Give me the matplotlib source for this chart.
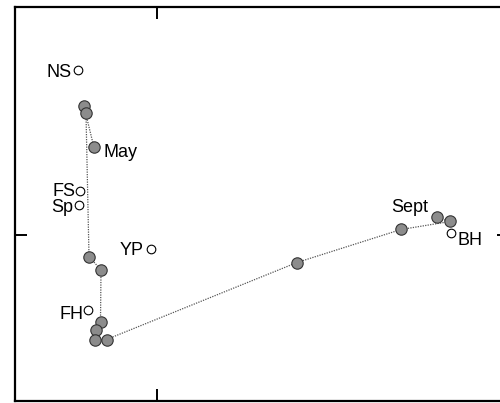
import matplotlib
matplotlib.use("Agg")
import matplotlib.pyplot as plt

plt.rcParams['font.family'] = ['Liberation Sans', 'DejaVu Sans']

# Sample trajectory through ordination space (first labelled May, last labelled Sept)
traj_x = [-0.625, -0.725, -0.705, -0.675, -0.555, -0.56, -0.61, -0.615, -0.50,
          1.405, 2.445, 2.935, 2.805]
traj_y = [0.88, 1.29, 1.22, -0.21, -0.345, -0.86, -0.945, -1.045, -1.04,
          -0.27, 0.06, 0.14, 0.18]

# Reference sites (open circles)
site_names = ["NS", "FS", "Sp", "YP", "FH", "BH"]
site_x = [-0.785, -0.765, -0.775, -0.06, -0.69, 2.945]
site_y = [1.65, 0.445, 0.30, -0.14, -0.74, 0.02]

fig = plt.figure(figsize=(5.0, 4.03), dpi=100)
ax = fig.add_axes([14.5 / 500, 2.0 / 403, (509 - 14.5) / 500, (401.5 - 8.0) / 403])
ax.set_xlim(-1.42, 3.525)
ax.set_ylim(-1.655, 2.28)

ax.plot(traj_x, traj_y, linestyle=(0, (1, 1)), color='#555555', linewidth=0.9, zorder=1)
ax.plot(traj_x, traj_y, linestyle='none', marker='o', markersize=8.2,
        markerfacecolor='#8c8c8c', markeredgecolor='#333333', markeredgewidth=0.8, zorder=3)
ax.plot(site_x, site_y, linestyle='none', marker='o', markersize=6.2,
        markerfacecolor='white', markeredgecolor='black', markeredgewidth=0.8, zorder=3)

fs = 13
# site labels: (dx, dy) offsets in points, horizontal alignment
site_offsets = {
    "NS": (-4.5, -4.5, 'right'),
    "FS": (-3.5, -3.5, 'right'),
    "Sp": (-4.0, -5.0, 'right'),
    "YP": (-5.0, -4.0, 'right'),
    "FH": (-3.0, -6.5, 'right'),
    "BH": (5.0, -8.5, 'left'),
}
for name, x, y in zip(site_names, site_x, site_y):
    dx, dy, ha = site_offsets[name]
    ax.annotate(name, (x, y), xytext=(dx, dy), textcoords='offset points',
                ha=ha, va='baseline', fontsize=fs)

ax.annotate("May", (traj_x[0], traj_y[0]), xytext=(6.5, -6.5), textcoords='offset points',
            ha='left', va='baseline', fontsize=fs)
ax.annotate("Sept", (traj_x[-1], traj_y[-1]), xytext=(-6.5, 3.6), textcoords='offset points',
            ha='right', va='baseline', fontsize=fs)

for side in ax.spines.values():
    side.set_linewidth(1.6)
ax.set_xticks([0])
ax.set_yticks([0])
ax.tick_params(direction='in', length=8.6, width=1.4, top=True, right=True,
               labelbottom=False, labelleft=False)

fig.savefig("out.png", dpi=100)
